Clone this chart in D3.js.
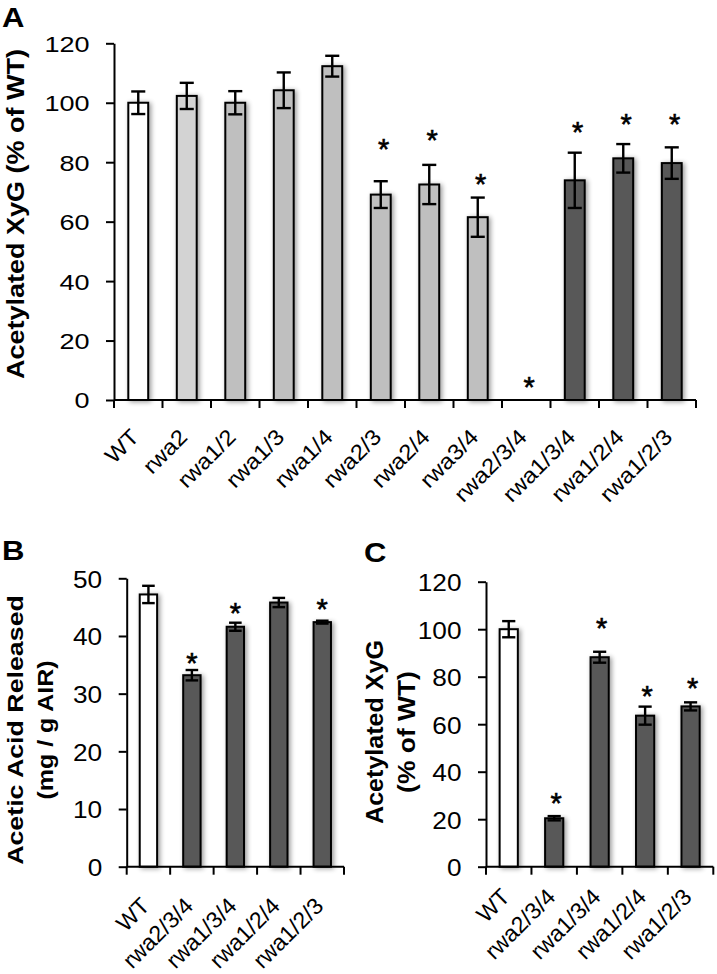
<!DOCTYPE html>
<html>
<head>
<meta charset="utf-8">
<script src="https://cdn.jsdelivr.net/npm/d3@7"></script>
<style>
  html, body { margin: 0; padding: 0; background: #fff; }
  svg { display: block; }
</style>
</head>
<body>
<script>
// ---------------- DATA ----------------
// Panel A
const catsA   = ["WT","rwa2","rwa1/2","rwa1/3","rwa1/4","rwa2/3","rwa2/4","rwa3/4","rwa2/3/4","rwa1/3/4","rwa1/2/4","rwa1/2/3"];
const groupsA = ["wt","single","double","double","double","double","double","double","triple","triple","triple","triple"];
const valsA   = [100, 102.3, 100, 104.2, 112.3, 69.1, 72.5, 61.5, 0, 73.9, 81.3, 79.7];
const errA    = [3.8, 4.4, 3.9, 6.0, 3.5, 4.5, 6.6, 6.6, 0, 9.3, 4.8, 5.3];
const starA   = [null, null, null, null, null, 86.8, 89.6, 74.7, 6.7, 92.4, 95.2, 95.2];
const ticksA  = [0, 20, 40, 60, 80, 100, 120];
const titleA  = ["Acetylated XyG (% of WT)"];

// Panels B and C share categories
const catsBC   = ["WT","rwa2/3/4","rwa1/3/4","rwa1/2/4","rwa1/2/3"];
const groupsBC = ["wt","triple","triple","triple","triple"];

const valsB  = [47.2, 33.2, 41.6, 45.8, 42.4];
const errB   = [1.5, 0.9, 0.7, 0.8, 0.25];
const starB  = [null, 36.5, 45.1, null, 45.8];
const ticksB = [0, 10, 20, 30, 40, 50];
const titleB = ["Acetic Acid Released", "(mg / g AIR)"];

const valsC  = [100, 20.4, 88.2, 63.6, 67.5];
const errC   = [3.4, 0.9, 2.3, 3.8, 1.7];
const starC  = [null, 29.5, 103.2, 74.8, 78.2];
const ticksC = [0, 20, 40, 60, 80, 100, 120];
const titleC = ["Acetylated XyG", "(% of WT)"];

// ---------------- STYLE ----------------
const FONT = "'Liberation Sans', Arial, Helvetica, sans-serif";
const fillOf = { wt: "#ffffff", single: "#d3d3d3", double: "#bfbfbf", triple: "#595959" };
const STAR_FS = 29;

// Helvetica/Arial advance widths (per 1000 em), used to size labels
const ADV = { r: 333, w: 722, a: 556, "/": 278, W: 944, T: 611 };
const advEm = s => Array.from(s).reduce((t, ch) => t + (ADV[ch] != null ? ADV[ch] : 556), 0) / 1000;
function fitWidth(node, target) {
  const w = node.getComputedTextLength();
  return w > 0 ? target / w : 1;
}

const svg = d3.select("body").append("svg").attr("width", 717).attr("height", 974);

const defs = svg.append("defs");
const f = defs.append("filter").attr("id", "shadow")
  .attr("x", "-60%").attr("y", "-10%").attr("width", "220%").attr("height", "125%");
f.append("feGaussianBlur").attr("in", "SourceAlpha").attr("stdDeviation", 2.6).attr("result", "b");
f.append("feOffset").attr("in", "b").attr("dx", 1.5).attr("dy", 1).attr("result", "o");
const ct = f.append("feComponentTransfer").attr("in", "o").attr("result", "s");
ct.append("feFuncA").attr("type", "linear").attr("slope", 0.4);
const fm = f.append("feMerge");
fm.append("feMergeNode").attr("in", "s");
fm.append("feMergeNode").attr("in", "SourceGraphic");

function panel(cfg) {
  const g = svg.append("g");
  const n = cfg.cats.length;
  const x = d3.scaleBand().domain(cfg.cats).range([cfg.x0, cfg.x1]).padding(0);
  const y = d3.scaleLinear().domain([0, cfg.yMax]).range([cfg.yBase, cfg.yTopPx]);
  const step = x.step();
  const bw = step * cfg.barFrac;
  const cap = step * 0.29;
  const cx = c => x(c) + step / 2;

  const data = cfg.cats.map((c, i) => ({ c, v: cfg.vals[i], e: cfg.errs[i], s: cfg.stars[i], grp: cfg.groups[i] }));

  // bars
  g.append("g").selectAll("rect").data(data.filter(d => d.v > 0)).join("rect")
    .attr("x", d => cx(d.c) - bw / 2)
    .attr("y", d => y(d.v))
    .attr("width", bw)
    .attr("height", d => y(0) - y(d.v))
    .attr("fill", d => fillOf[d.grp])
    .attr("stroke", "#000").attr("stroke-width", 2)
    .attr("filter", "url(#shadow)");

  // y axis
  const ya = g.append("g").attr("transform", `translate(${cfg.x0},0)`)
    .call(d3.axisLeft(y).tickValues(cfg.ticks).tickSize(8).tickSizeOuter(0).tickFormat(d3.format("d")));
  ya.select(".domain").attr("stroke", "#000").attr("stroke-width", 2);
  ya.selectAll(".tick line").attr("stroke", "#000").attr("stroke-width", 2);
  ya.selectAll(".tick text")
    .attr("font-family", FONT).attr("font-size", cfg.tickFs).attr("fill", "#000")
    .attr("x", 0).attr("dy", "0.36em")
    .each(function (d) {
      const sc = fitWidth(this, advEm(String(d)) * cfg.tickFs * cfg.tickS);
      d3.select(this).attr("transform", `translate(-24.5,0) scale(${sc},1)`);
    });

  // x axis line and boundary ticks
  g.append("line").attr("x1", cfg.x0).attr("x2", cfg.x1).attr("y1", cfg.yBase).attr("y2", cfg.yBase)
    .attr("stroke", "#000").attr("stroke-width", 2);
  g.append("g").selectAll("line").data(d3.range(n + 1)).join("line")
    .attr("x1", i => x.range()[0] + i * step).attr("x2", i => x.range()[0] + i * step)
    .attr("y1", cfg.yBase).attr("y2", cfg.yBase + 8)
    .attr("stroke", "#000").attr("stroke-width", 2);

  // x labels
  g.append("g").selectAll("text").data(cfg.cats).join("text")
    .attr("text-anchor", "end")
    .attr("font-family", FONT).attr("font-size", cfg.lblFs).attr("fill", "#000")
    .text(c => c)
    .each(function (c) {
      const sc = fitWidth(this, advEm(c) * cfg.lblFs * cfg.lblS);
      d3.select(this).attr("transform",
        `translate(${cx(c) + cfg.lblDx},${cfg.yBase + cfg.lblDy}) rotate(-45) scale(${sc},1)`);
    });

  // error bars
  const eb = g.append("g").attr("stroke", "#000").attr("stroke-width", 2.4).attr("fill", "none");
  data.filter(d => d.e > 0).forEach(d => {
    const xc = cx(d.c);
    eb.append("line").attr("x1", xc).attr("x2", xc).attr("y1", y(d.v - d.e)).attr("y2", y(d.v + d.e));
    eb.append("line").attr("x1", xc - cap / 2).attr("x2", xc + cap / 2).attr("y1", y(d.v + d.e)).attr("y2", y(d.v + d.e));
    eb.append("line").attr("x1", xc - cap / 2).attr("x2", xc + cap / 2).attr("y1", y(d.v - d.e)).attr("y2", y(d.v - d.e));
  });

  // significance stars
  g.append("g").selectAll("text").data(data.filter(d => d.s != null)).join("text")
    .attr("x", d => cx(d.c) + cfg.starDx)
    .attr("y", d => y(d.s) + 0.57 * STAR_FS)
    .attr("text-anchor", "middle")
    .attr("font-family", FONT).attr("font-size", STAR_FS).attr("fill", "#000")
    .attr("stroke", "#000").attr("stroke-width", 0.6)
    .text("*");

  // y title
  cfg.title.forEach((t, i) => {
    g.append("text")
      .attr("transform", `translate(${cfg.titleX[i]},${cfg.titleY}) rotate(-90) scale(${cfg.titleS[i]},1)`)
      .attr("text-anchor", "middle")
      .attr("font-family", FONT).attr("font-weight", "bold").attr("font-size", cfg.titleFs).attr("fill", "#000")
      .text(t);
  });

  // panel letter
  svg.append("text")
    .attr("transform", `translate(${cfg.letterX},${cfg.letterY}) scale(1.15,1)`)
    .attr("font-family", FONT).attr("font-weight", "bold").attr("font-size", 27).attr("fill", "#000")
    .text(cfg.letter);
}

panel({
  cats: catsA, vals: valsA, errs: errA, stars: starA, groups: groupsA, ticks: ticksA, yMax: 120,
  x0: 114, x1: 696, yBase: 400, yTopPx: 43.3, barFrac: 0.41,
  tickFs: 22, tickS: 1.23,
  lblFs: 22, lblS: 1.09, lblDx: 2, lblDy: 38.4,
  starDx: 3,
  title: titleA, titleX: [23.5], titleY: 214, titleS: [1.15], titleFs: 23.5,
  letter: "A", letterX: 2, letterY: 27
});

panel({
  cats: catsBC, vals: valsB, errs: errB, stars: starB, groups: groupsBC, ticks: ticksB, yMax: 50,
  x0: 126.7, x1: 344, yBase: 866.7, yTopPx: 578.3, barFrac: 0.4,
  tickFs: 24.5, tickS: 1.07,
  lblFs: 23, lblS: 1.0, lblDx: 2.6, lblDy: 40.7,
  starDx: 0,
  title: titleB, titleX: [22.7, 53.3], titleY: 730, titleS: [1.19, 1.11], titleFs: 22.5,
  letter: "B", letterX: 2, letterY: 560
});

panel({
  cats: catsBC, vals: valsC, errs: errC, stars: starC, groups: groupsBC, ticks: ticksC, yMax: 120,
  x0: 486, x1: 713.3, yBase: 866.7, yTopPx: 581.7, barFrac: 0.4,
  tickFs: 24.5, tickS: 1.07,
  lblFs: 23, lblS: 1.0, lblDx: 2.5, lblDy: 31.7,
  starDx: 2,
  title: titleC, titleX: [383.3, 415], titleY: 732, titleS: [1.09, 1.15], titleFs: 23,
  letter: "C", letterX: 364, letterY: 562
});
</script>
</body>
</html>
